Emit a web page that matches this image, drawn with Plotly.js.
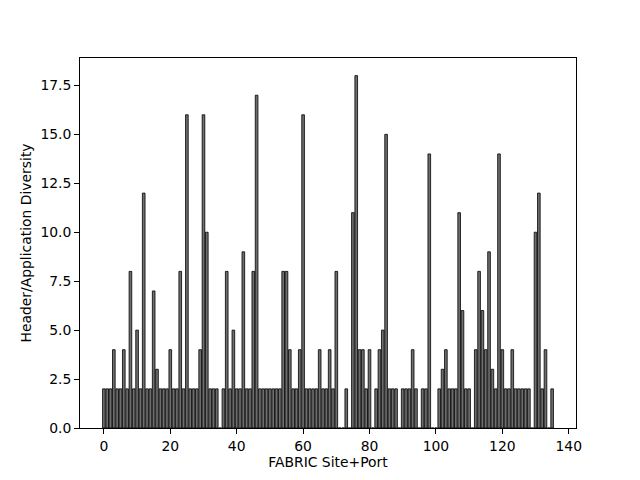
<!DOCTYPE html>
<html>
<head>
<meta charset="utf-8">
<script src="https://cdn.plot.ly/plotly-3.0.1.min.js"></script>
<style>body{margin:0;padding:0;background:#fff}#chart{width:640px;height:480px}</style>
</head>
<body>
<div id="chart"></div>
<script>
// Diversity value for each FABRIC site+port index 0..135
const diversity = [
  2, 2, 2, 4, 2, 2, 4, 2, 8, 2,
  5, 2, 12, 2, 2, 7, 3, 2, 2, 2,
  4, 2, 2, 8, 2, 16, 2, 2, 2, 4,
  16, 10, 2, 2, 2, 0, 2, 8, 2, 5,
  2, 2, 9, 2, 2, 8, 17, 2, 2, 2,
  2, 2, 2, 2, 8, 8, 4, 2, 2, 4,
  16, 2, 2, 2, 2, 4, 2, 2, 4, 2,
  8, 0, 0, 2, 0, 11, 18, 4, 4, 2,
  4, 0, 2, 4, 5, 15, 2, 2, 2, 0,
  2, 2, 2, 4, 2, 0, 2, 2, 14, 0,
  0, 2, 3, 4, 2, 2, 2, 11, 6, 2,
  2, 0, 4, 8, 6, 4, 9, 3, 2, 14,
  4, 2, 2, 4, 2, 2, 2, 2, 2, 0,
  10, 12, 2, 4, 0, 2
];
const siteIndex = diversity.map((_, i) => i);
const xTicks = [0, 20, 40, 60, 80, 100, 120, 140];
const yTicks = [0, 2.5, 5, 7.5, 10, 12.5, 15, 17.5];
const xTitle = "FABRIC Site+Port";
const yTitle = "Header/Application Diversity";

const n = siteIndex.length;
const xPad = (n - 1 + 0.8) * 0.05;
const yMax = Math.max(...diversity) * 1.05;
const font = {family: "DejaVu Sans, sans-serif", size: 13.9, color: "#000"};

Plotly.newPlot("chart", [{
  type: "bar",
  x: siteIndex,
  y: diversity,
  marker: {color: "#6e6e6e", line: {color: "#000", width: 0.8}},
  hoverinfo: "skip"
}], {
  width: 640, height: 480,
  margin: {l: 80, r: 64, t: 58, b: 52, pad: 0},
  paper_bgcolor: "#fff", plot_bgcolor: "#fff",
  font: font,
  bargap: 0.2,
  showlegend: false,
  xaxis: {
    range: [-0.4 - xPad, n - 1 + 0.4 + xPad],
    tickmode: "array", tickvals: xTicks, ticktext: xTicks.map(String),
    showgrid: false, zeroline: false,
    showline: true, mirror: true, linecolor: "#000", linewidth: 1,
    ticks: "outside", ticklen: 4.9, tickwidth: 1, tickcolor: "#000",
    tickfont: font,
    title: {text: xTitle, font: font, standoff: 4}
  },
  yaxis: {
    range: [0, yMax],
    tickmode: "array", tickvals: yTicks, ticktext: yTicks.map(v => v.toFixed(1)),
    showgrid: false, zeroline: false,
    showline: true, mirror: true, linecolor: "#000", linewidth: 1,
    ticks: "outside", ticklen: 4.9, tickwidth: 1, tickcolor: "#000",
    tickfont: font,
    title: {text: yTitle, font: font, standoff: 5}
  }
}, {staticPlot: true, displayModeBar: false});
</script>
</body>
</html>
